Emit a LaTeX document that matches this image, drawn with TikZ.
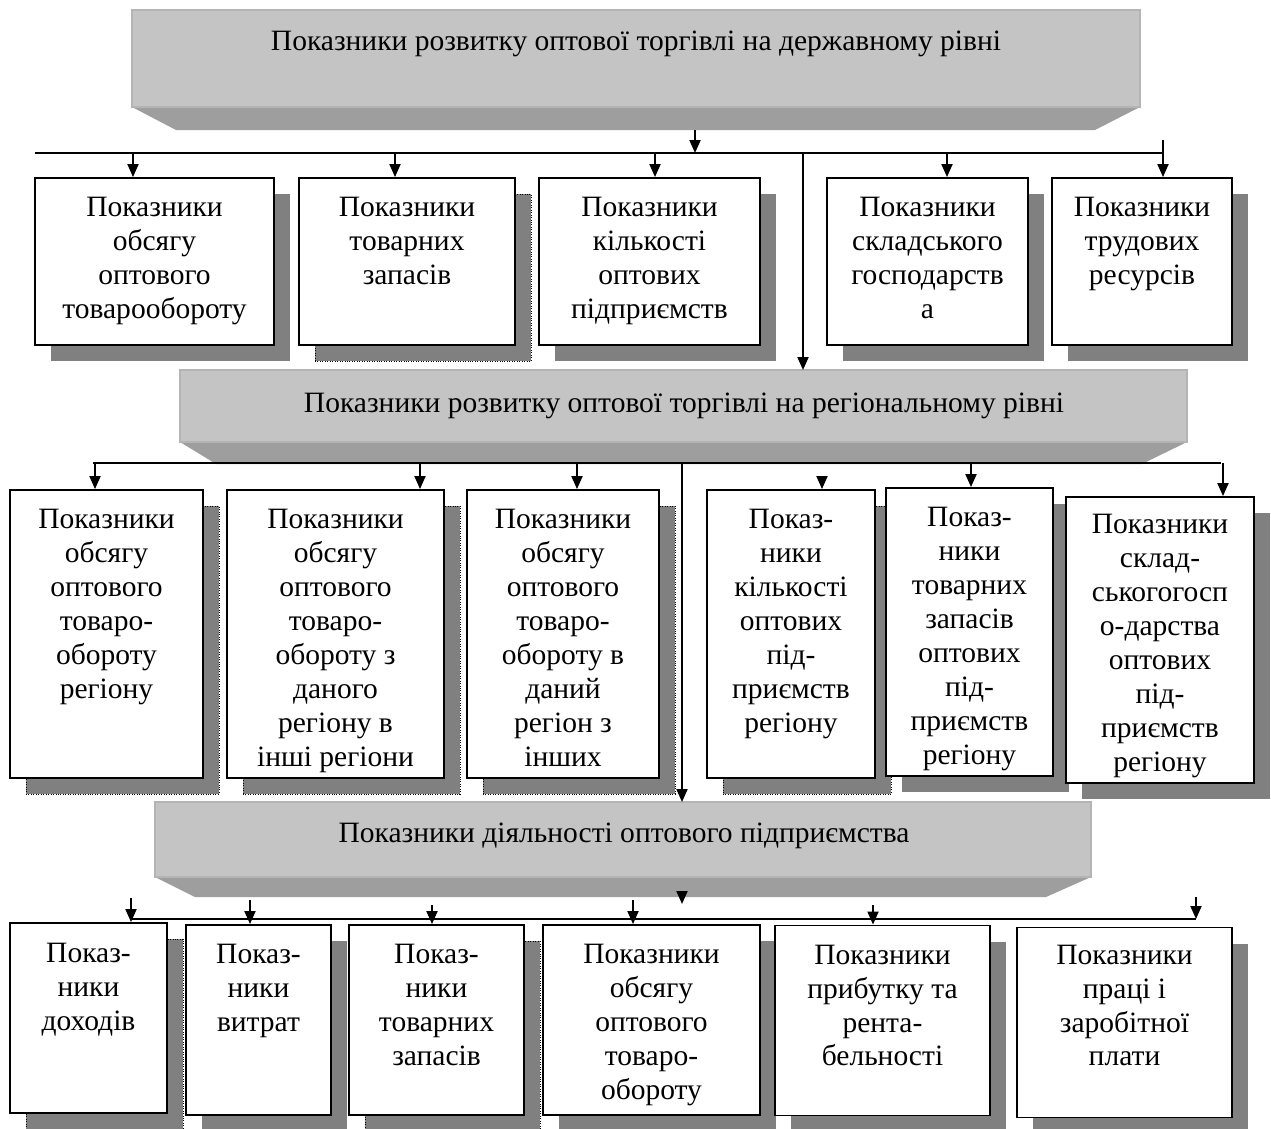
\documentclass[tikz,border=0pt]{standalone}
\usepackage{fontspec}
\setmainfont{Liberation Serif}
\usetikzlibrary{positioning, arrows.meta, shadows}
\definecolor{BannerColor}{RGB}{196,196,196}
\definecolor{BannerEdge}{RGB}{180,180,180}
\definecolor{BandColor}{RGB}{158,158,158}
\definecolor{ShadowColor}{RGB}{128,128,128}
\newcommand{\boxfont}{\fontsize{16.8}{19.3}\selectfont}

\begin{document}
\begin{tikzpicture}[
    x=0.02cm, y=-0.02cm,
    grayshadow/.style={shadow xshift=0.32cm, shadow yshift=-0.32cm, fill=ShadowColor, opacity=1},
    box/.style={rectangle, draw, line width=1.1pt, fill=white, inner sep=0pt, drop shadow={grayshadow}},
    dotbox/.style={rectangle, draw, line width=1.1pt, fill=white, inner sep=0pt,
        drop shadow={grayshadow, draw=black, densely dotted, line width=0.4pt}},
    banner/.style={fill=BannerColor, draw=BannerEdge, line width=1pt},
    txt/.style={align=center, inner sep=0pt, font=\boxfont},
    bus/.style={line width=1.1pt},
    arr/.style={-{Triangle[length=0.26cm, width=0.22cm]}, line width=1.1pt},
]

% Page
\path[use as bounding box, fill=white] (0,0) rectangle (1271,1129);

% State level
\fill[BandColor] (132,107) -- (1140,107) -- (1095,130) -- (176,130) -- cycle;
\draw[banner] (132,10) rectangle (1140,107);
\node[txt] (state) at (636,44) {Показники розвитку оптової торгівлі на державному рівні};

% State level indicators
\node[box, minimum width=4.78cm, minimum height=3.34cm] (b1) at (154.5,261.5) {};
\node[dotbox, minimum width=4.32cm, minimum height=3.34cm] (b2) at (407,261.5) {};
\node[box, minimum width=4.42cm, minimum height=3.34cm] (b3) at (649.5,261.5) {};
\node[box, minimum width=4.02cm, minimum height=3.34cm] (b4) at (927.5,261.5) {};
\node[box, minimum width=3.60cm, minimum height=3.34cm] (b5) at (1142,261.5) {};

\node[txt, below=0.4cm of b1.north] (b1t) {Показники\\обсягу\\оптового\\товарообороту};
\node[txt, below=0.4cm of b2.north] (b2t) {Показники\\товарних\\запасів};
\node[txt, below=0.4cm of b3.north] (b3t) {Показники\\кількості\\оптових\\підприємств};
\node[txt, below=0.4cm of b4.north] (b4t) {Показники\\складського\\господарств\\а};
\node[txt, below=0.4cm of b5.north] (b5t) {Показники\\трудових\\ресурсів};

% Regional level
\fill[BandColor] (180,442) -- (1187,442) -- (1142,464) -- (216,464) -- cycle;
\draw[banner] (180,370) rectangle (1187,442);
\node[txt] (region) at (684,406) {Показники розвитку оптової торгівлі на регіональному рівні};

% Regional level indicators
\node[dotbox, minimum width=3.86cm, minimum height=5.76cm] (c1) at (106.5,634) {};
\node[dotbox, minimum width=4.34cm, minimum height=5.76cm] (c2) at (335.5,634) {};
\node[dotbox, minimum width=3.84cm, minimum height=5.76cm] (c3) at (563,634) {};
\node[dotbox, minimum width=3.36cm, minimum height=5.76cm] (c4) at (791,634) {};
\node[box, minimum width=3.34cm, minimum height=5.76cm] (c5) at (969.5,632) {};
\node[box, minimum width=3.76cm, minimum height=5.72cm] (c6) at (1160,640) {};

\node[txt, below=0.4cm of c1.north] (c1t) {Показники\\обсягу\\оптового\\товаро-\\обороту\\регіону};
\node[txt, below=0.4cm of c2.north] (c2t) {Показники\\обсягу\\оптового\\товаро-\\обороту з\\даного\\регіону в\\інші регіони};
\node[txt, below=0.4cm of c3.north] (c3t) {Показники\\обсягу\\оптового\\товаро-\\обороту в\\даний\\регіон з\\інших};
\node[txt, below=0.4cm of c4.north] (c4t) {Показ-\\ники\\кількості\\оптових\\під-\\приємств\\регіону};
\node[txt, below=0.4cm of c5.north] (c5t) {Показ-\\ники\\товарних\\запасів\\оптових\\під-\\приємств\\регіону};
\node[txt, below=0.36cm of c6.north] (c6t) {Показники\\склад-\\ськогогосп\\о-дарства\\оптових\\під-\\приємств\\регіону};

% Enterprise level
\fill[BandColor] (155,877) -- (1091,877) -- (1046,897) -- (195,897) -- cycle;
\draw[banner] (155,802) rectangle (1091,877);
\node[txt] (firm) at (624,836) {Показники діяльності оптового підприємства};

% Enterprise level indicators
\node[dotbox, minimum width=3.14cm, minimum height=3.80cm] (d1) at (88.5,1018) {};
\node[box, minimum width=2.90cm, minimum height=3.80cm] (d2) at (258.5,1020) {};
\node[dotbox, minimum width=3.50cm, minimum height=3.80cm] (d3) at (436.5,1020) {};
\node[box, minimum width=4.34cm, minimum height=3.80cm] (d4) at (651.5,1020) {};
\node[box, minimum width=4.30cm, minimum height=3.80cm] (d5) at (882.5,1020.5) {};
\node[box, minimum width=4.30cm, minimum height=3.80cm] (d6) at (1124.5,1022.5) {};

\node[txt, below=0.42cm of d1.north] (d1t) {Показ-\\ники\\доходів};
\node[txt, below=0.4cm of d2.north] (d2t) {Показ-\\ники\\витрат};
\node[txt, below=0.4cm of d3.north] (d3t) {Показ-\\ники\\товарних\\запасів};
\node[txt, below=0.4cm of d4.north] (d4t) {Показники\\обсягу\\оптового\\товаро-\\обороту};
\node[txt, below=0.4cm of d5.north] (d5t) {Показники\\прибутку та\\рента-\\бельності};
\node[txt, below=0.36cm of d6.north] (d6t) {Показники\\праці і\\заробітної\\плати};

% Bus under state level
\coordinate (bus1w) at (35,153);
\coordinate (bus1e) at (1163,153);
\coordinate (state out) at (695,130);
\draw[bus] (bus1w) -- (bus1e);
\draw[arr] (state out) -- (state out |- bus1w);
\foreach \n/\x in {b1/133, b2/395, b3/655, b4/947} {
    \coordinate (tap) at (\x,153);
    \draw[arr] (tap) -- (tap |- \n.north);
}
\coordinate (tap b5) at (1163,140);
\draw[arr] (tap b5) -- (tap b5 |- b5.north);

% State -> regional
\coordinate (link12) at (803,153);
\coordinate (region top) at (180,370);
\draw[arr] (link12) -- (link12 |- region top);

% Bus under regional level
\coordinate (bus2w) at (93,463);
\coordinate (bus2e) at (1221,463);
\draw[bus] (bus2w) -- (bus2e);
\foreach \n/\x/\y in {c1/95/463, c2/420/463, c3/577/463, c4/822/477, c5/971/463, c6/1223/463} {
    \coordinate (tap) at (\x,\y);
    \draw[arr] (tap) -- (tap |- \n.north);
}

% Regional -> enterprise
\coordinate (link23) at (682,463);
\coordinate (firm top) at (155,802);
\draw[arr] (link23) -- (link23 |- firm top);
\coordinate (firm out) at (682,893);
\coordinate (firm tip) at (682,904);
\draw[arr] (firm out) -- (firm tip);

% Bus under enterprise level
\coordinate (bus3w) at (131,919);
\coordinate (bus3e) at (1196,919);
\draw[bus] (bus3w) -- (bus3e);
\foreach \n/\x/\y in {d1/131/898, d2/250/900, d3/432/905, d4/633/900, d5/873/905} {
    \coordinate (tap) at (\x,\y);
    \draw[arr] (tap) -- (tap |- \n.north);
}
\coordinate (tap d6) at (1196,897);
\draw[arr] (tap d6) -- (bus3e);

\end{tikzpicture}
\end{document}
